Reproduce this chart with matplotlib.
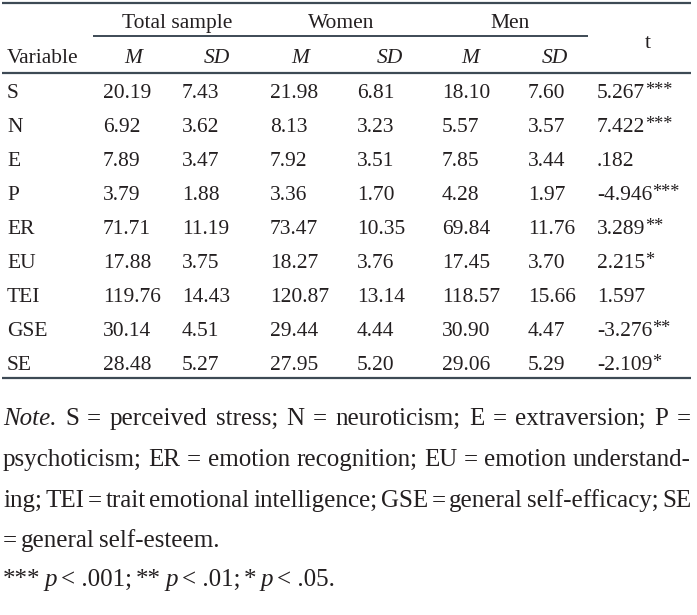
import matplotlib
matplotlib.use('Agg')
import matplotlib.pyplot as plt

# Table data
variables = ['S', 'N', 'E', 'P', 'ER', 'EU', 'TEI', 'GSE', 'SE']
total_m = [20.19, 6.92, 7.89, 3.79, 71.71, 17.88, 119.76, 30.14, 28.48]
total_sd = [7.43, 3.62, 3.47, 1.88, 11.19, 3.75, 14.43, 4.51, 5.27]
women_m = [21.98, 8.13, 7.92, 3.36, 73.47, 18.27, 120.87, 29.44, 27.95]
women_sd = [6.81, 3.23, 3.51, 1.70, 10.35, 3.76, 13.14, 4.44, 5.20]
men_m = [18.10, 5.57, 7.85, 4.28, 69.84, 17.45, 118.57, 30.90, 29.06]
men_sd = [7.60, 3.57, 3.44, 1.97, 11.76, 3.70, 15.66, 4.47, 5.29]
t_vals = [5.267, 7.422, 0.182, -4.946, 3.289, 2.215, 1.597, -3.276, -2.109]
t_sig = ['***', '***', '', '***', '**', '*', '', '**', '*']

groups = ['Total sample', 'Women', 'Men']

note_lines = [
    [('Note.', 'italic'), ('S', 'normal'), ('=', 'normal'), ('perceived', 'normal'), ('stress;', 'normal'),
     ('N', 'normal'), ('=', 'normal'), ('neuroticism;', 'normal'), ('E', 'normal'), ('=', 'normal'),
     ('extraversion;', 'normal'), ('P', 'normal'), ('=', 'normal')],
    [(w, 'normal') for w in 'psychoticism; ER = emotion recognition; EU = emotion understand-'.split()],
    [(w, 'normal') for w in 'ing; TEI = trait emotional intelligence; GSE = general self-efficacy; SE'.split()],
    [(w, 'normal') for w in '= general self-esteem.'.split()],
    [('***', 'normal'), ('p', 'italic'), ('< .001;', 'normal'), ('**', 'normal'), ('p', 'italic'),
     ('< .01;', 'normal'), ('*', 'normal'), ('p', 'italic'), ('< .05.', 'normal')],
]
justify = [True, True, True, False, False]

plt.rcParams['font.family'] = ['Liberation Serif', 'DejaVu Serif']
txt_color = '#231f20'
rule_color = '#3d4a55'
fs = 15.5
fs_note = 18

fig = plt.figure(figsize=(6.97, 6.15), dpi=100)
ax = fig.add_axes([0, 0, 1, 1])
ax.set_xlim(0, 697)
ax.set_ylim(615, 0)
ax.axis('off')
renderer = fig.canvas.get_renderer()

# rules
ax.hlines(3, 2, 691, color=rule_color, lw=1.6)
ax.hlines(36, 93, 588, color=rule_color, lw=1.4)
ax.hlines(73, 2, 691, color=rule_color, lw=1.6)
ax.hlines(378, 2, 691, color=rule_color, lw=1.6)

# header
group_x = [177, 341, 510]
for g, x in zip(groups, group_x):
    ax.text(x, 28, g, ha='center', va='baseline', fontsize=fs, color=txt_color)
ax.text(7, 63, 'Variable', ha='left', va='baseline', fontsize=fs, color=txt_color)
sub_x = [133, 217, 300, 390, 470, 555]
for i, x in enumerate(sub_x):
    ax.text(x, 63, 'M' if i % 2 == 0 else 'SD', ha='center', va='baseline',
            fontsize=fs, style='italic', color=txt_color)
ax.text(648, 48, 't', ha='center', va='baseline', fontsize=fs, color=txt_color)

# body
col_x = [7, 103, 182, 270, 357, 442, 528, 597]
row_y0, row_dy = 98, 34
for i, v in enumerate(variables):
    y = row_y0 + i * row_dy
    tv = '{:.3f}'.format(t_vals[i])
    if abs(t_vals[i]) < 1:
        tv = tv.replace('0.', '.')
    cells = [v] + ['{:.2f}'.format(a[i]) for a in (total_m, total_sd, women_m, women_sd, men_m, men_sd)] \
        + [tv]
    for x, c in zip(col_x, cells):
        t = ax.text(x, y, c, ha='left', va='baseline', fontsize=fs, color=txt_color)
    if t_sig[i]:
        w = t.get_window_extent(renderer).width
        ax.text(col_x[-1] + w, y - 3, t_sig[i], ha='left', va='baseline',
                fontsize=fs * 0.85, color=txt_color)

# note, justified
note_y = [425, 466, 507, 547, 586]
left, right = 3, 691
for line, y, just in zip(note_lines, note_y, justify):
    objs = [ax.text(0, y, w, ha='left', va='baseline', fontsize=fs_note, style=s, color=txt_color)
            for w, s in line]
    widths = [o.get_window_extent(renderer).width for o in objs]
    if just:
        gap = (right - left - sum(widths)) / (len(objs) - 1)
    else:
        gap = 4
    x = left
    for o, w in zip(objs, widths):
        o.set_x(x)
        x += w + gap

fig.savefig('out.png', dpi=100)
